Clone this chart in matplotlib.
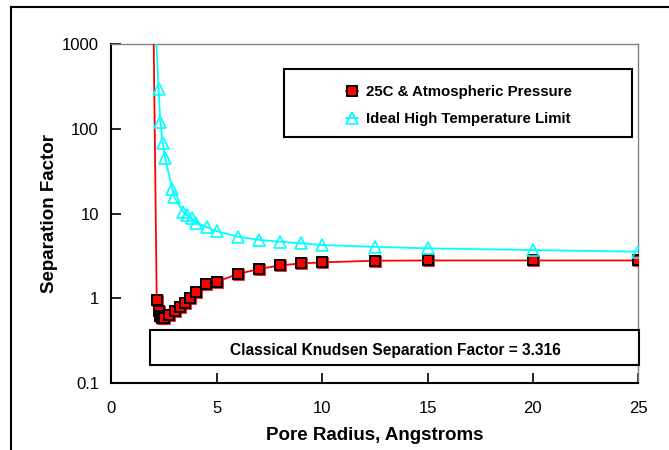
import matplotlib
matplotlib.use("Agg")
import matplotlib.pyplot as plt
from matplotlib.lines import Line2D
from matplotlib.patches import Rectangle
import matplotlib.transforms as mtransforms

plt.rcParams['font.family'] = ['Liberation Sans', 'DejaVu Sans']

# Data
red_x = [2.0, 2.15, 2.25, 2.3, 2.4, 2.5, 2.75, 3.0, 3.25, 3.5, 3.75, 4.0, 4.5,
         5, 6, 7, 8, 9, 10, 12.5, 15, 20, 25]
red_y = [1500, 0.95, 0.70, 0.62, 0.59, 0.58, 0.63, 0.70, 0.79, 0.88, 1.0, 1.2, 1.46,
         1.57, 1.94, 2.22, 2.45, 2.58, 2.66, 2.78, 2.80, 2.80, 2.80]
cyan_x = [2.1, 2.24, 2.32, 2.44, 2.55, 2.89, 2.97, 3.41, 3.57, 3.81, 4.0, 4.54,
          5, 6, 7, 8, 9, 10, 12.5, 15, 20, 25]
cyan_y = [1500, 293, 122, 67.6, 45.7, 19.4, 15.8, 10.5, 9.6, 8.8, 7.8, 6.9,
          6.2, 5.35, 4.9, 4.66, 4.46, 4.26, 4.06, 3.89, 3.72, 3.55]
red_label = "25C & Atmospheric Pressure"
cyan_label = "Ideal High Temperature Limit"
knudsen_text = "Classical Knudsen Separation Factor = 3.316"
x_ticks = [0, 5, 10, 15, 20, 25]
y_ticks = [0.1, 1, 10, 100, 1000]
y_ticklabels = ["0.1", "1", "10", "100", "1000"]

W, H = 669, 450
fig = plt.figure(figsize=(W / 100, H / 100), dpi=100)
ax = fig.add_axes([111.4 / W, 1 - 383 / H, (638.3 - 111.4) / W, (383 - 44.3) / H])

ax.set_yscale('log')
ax.set_xlim(0, 25)
ax.set_ylim(0.1, 1000)

# red series with slight red shadow under markers
shadow = mtransforms.offset_copy(ax.transData, fig=fig, x=1.0, y=-1.0, units='dots')
ax.plot(red_x, red_y, color='red', lw=1.3, zorder=3)
ax.plot(red_x, red_y, ls='none', marker='s', ms=7.3, mfc='red', mec='red',
        mew=1.2, transform=shadow, zorder=4)
ax.plot(red_x, red_y, ls='none', marker='s', ms=7.3, mfc='red', mec='black',
        mew=1.4, zorder=5)

ax.plot(cyan_x, cyan_y, color='cyan', lw=1.3, marker='^', ms=8, mfc='none',
        mec='cyan', mew=1.2, zorder=6)

ax.set_xticks(x_ticks)
ax.set_yticks(y_ticks)
ax.set_yticklabels(y_ticklabels)
ax.yaxis.set_minor_locator(matplotlib.ticker.NullLocator())
ax.tick_params(axis='both', direction='in', length=7, width=1.2, labelsize=12,
               colors='black')
ax.tick_params(axis='y', pad=9)
ax.tick_params(axis='x', pad=13)
for s in ['left', 'bottom']:
    ax.spines[s].set_linewidth(1.5)
    ax.spines[s].set_color('black')
for s in ['top', 'right']:
    ax.spines[s].set_linewidth(1.0)
    ax.spines[s].set_color('#808080')

ax.set_xlabel("Pore Radius, Angstroms", fontsize=13.5, fontweight='bold', labelpad=8)
ax.set_ylabel("Separation Factor", fontsize=13.5, fontweight='bold', labelpad=3)

# legend box
fig.add_artist(Rectangle((284 / W, 1 - 136.5 / H), (632 - 284) / W, (136.5 - 69) / H,
                         transform=fig.transFigure, fill=True, fc='white',
                         ec='black', lw=1.5, zorder=10))
handles = [Line2D([], [], color='red', lw=1.3, marker='s', ms=7, mfc='red', mec='black', mew=1.4),
           Line2D([], [], color='cyan', lw=1.3, marker='^', ms=8, mfc='none', mec='cyan', mew=1.2)]
leg = fig.legend(handles, [red_label, cyan_label], loc='center',
                 bbox_to_anchor=(459 / W, 1 - 105.5 / H), frameon=False,
                 prop={'weight': 'bold', 'size': 10.8}, handlelength=0.8,
                 handletextpad=0.5, labelspacing=0.9, borderpad=0)
leg.set_zorder(11)

# Knudsen box
fig.add_artist(Rectangle((150 / W, 1 - 364.5 / H), (639 - 150) / W, (364.5 - 330) / H,
                         transform=fig.transFigure, fc='white', ec='black', lw=1.5,
                         zorder=10))
fig.text(395 / W, 1 - 350 / H, knudsen_text, ha='center', va='center',
         fontsize=11.2, fontweight='bold', zorder=11)

# outer frame lines (top and left)
fig.add_artist(Line2D([11 / W, 1], [1 - 7 / H, 1 - 7 / H], transform=fig.transFigure,
                      color='black', lw=1.5))
fig.add_artist(Line2D([11 / W, 11 / W], [0, 1 - 7 / H], transform=fig.transFigure,
                      color='black', lw=1.5))

fig.savefig("out.png", dpi=100)
